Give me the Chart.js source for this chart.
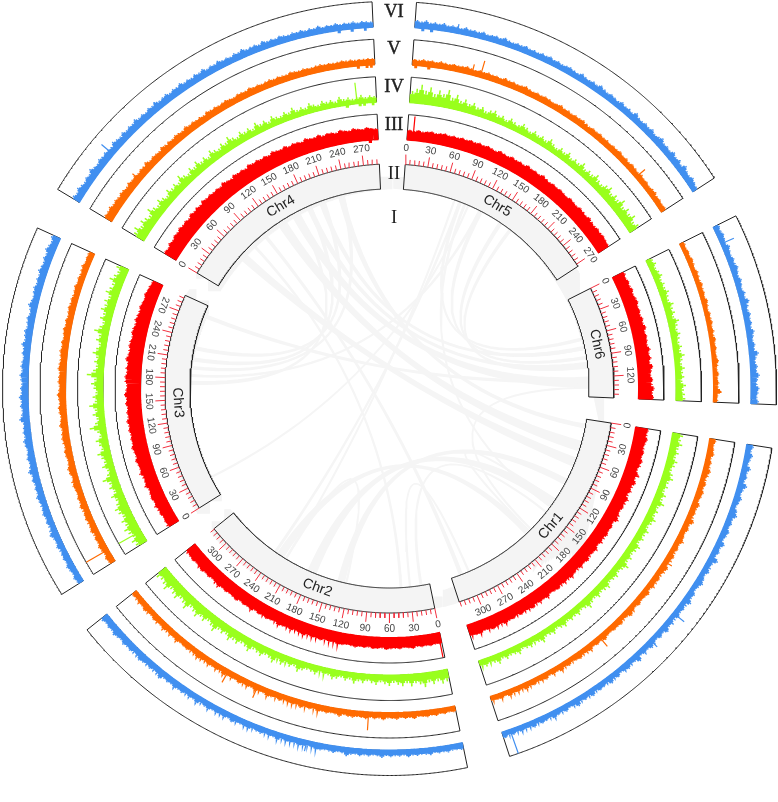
<!DOCTYPE html>
<html>
<head>
<meta charset="utf-8">
<style>
  html, body { margin: 0; padding: 0; background: #fff; }
  canvas { display: block; }
</style>
<script src="https://cdn.jsdelivr.net/npm/chart.js@4/dist/chart.umd.min.js"></script>
</head>
<body>
<canvas id="circos" width="778" height="802"></canvas>
<script>
// chromosomes in drawing order, clockwise from the top. lengths in Mb
const chrNames = ["Chr5", "Chr6", "Chr1", "Chr2", "Chr3", "Chr4"];
const chrLengths = [273.5, 149, 325, 325, 292, 291];
const flippedChrs = ["Chr1", "Chr2", "Chr3"];
const romanLabels = ["VI", "V", "IV", "III", "II", "I"];

// track values, percent of the ring height
const chr1Red = [52,48,55,50,47,53,49,56,51,47,54,50,58,49,52,46,55,50,53,48,51,57,47,52,49,54,48,51,46,53,50,47,55,49,52,46,50,54,48,51,47,53,49,45,52,48,50,46,54,49,47,51,45,50,48,53,46,49,52,47,44,50,48,46];
const chr1Green = [42,36,45,33,38,30,41,35,28,37,44,31,34,27,39,32,46,29,35,30,42,33,27,38,31,36,26,41,34,29,37,30,47,33,28,36,31,26,40,34,29,37,27,32,44,30,25,35,28,33,26,38,31,24,36,29,27,42,30,25,34,28,23,37,29,26,33,24,39,28,25,31,27];
const chr1Orange = [26,21,24,28,20,25,22,30,23,19,26,21,27,24,20,29,23,25,21,33,22,26,20,24,28,21,25,19,27,23,21,30,24,20,26,22,25,19,28,23,21,26,20,24,31,22,19,27,23,25,20,22,29,21,24,19,26,22,20,27,23,19,25,21,28,20,23,18,26,22,19,24,21,27,19,22,20,25,18,23,21,19];
const chr1Blue = [28,22,31,25,20,33,24,27,21,36,26,22,30,24,19,28,34,23,26,21,29,25,20,32,23,27,21,38,24,22,28,20,26,31,23,19,27,24,34,21,26,22,29,20,25,23,32,21,27,19,24,30,22,26,20,35,23,21,28,25,19,27,22,31,20,24,26,19,29,22,25,21,33,23,19,27,21,24,30,20,23,26,19,28,22,21,25,19,24,20,26];

const chr2Red = [44,42,46,43,45,41,47,44,42,46,43,45,48,42,44,46,41,45,43,47,44,42,46,48,43,45,42,47,44,46,43,49,45,42,47,44,46,50,43,45,48,44,47,42,49,45,47,43,50,46,44,48,45,51,47,44,49,46,52,48,45,50,47,44];
const chr2Green = [46,52,40,48,38,55,42,36,47,33,44,38,30,42,35,28,39,33,26,36,30,41,27,34,24,32,38,26,30,23,35,28,25,33,44,27,36,30,40,28,46,33,29,42,35,30,48,36,32,44,38,50,34,41,36,55,40,33,46,38,52,42,36,58,44,39,54,47,40,60,48,43,50];
const chr2Orange = [22,19,23,20,25,21,26,23,20,28,22,25,21,27,24,22,29,23,26,21,28,24,22,27,25,21,30,24,22,26,23,28,21,25,23,29,22,26,24,21,27,23,25,30,22,24,27,21,26,23,28,22,25,24,30,21,26,23,27,22,25,29,23,21,26,24,22,28,23,25,21,27,22,24,26,21,23,28,22,24,20,23];
const chr2Blue = [26,24,22,27,23,25,21,28,24,22,26,23,29,21,25,23,27,22,30,24,21,26,23,28,22,25,33,23,21,27,24,22,26,29,23,21,25,28,22,24,26,21,30,23,25,22,27,24,21,28,26,23,25,30,22,27,24,26,23,29,25,22,32,24,27,23,28,25,31,24,27,23,35,26,24,29,25,28,33,26,24,30,27,32,25,29,34,27,30,26,31];

const chr3Red = [46,48,45,50,47,52,49,54,51,48,55,52,50,57,53,55,60,54,57,62,56,58,55,60,57,63,56,59,55,61,57,64,58,55,60,63,57,59,56,65,58,55,60,57,54,59,56,52,57,53,50,55,51,48,53,49,46,44];
const chr3Green = [44,52,38,47,56,42,50,36,46,54,40,35,48,30,42,36,58,34,28,44,32,38,50,30,36,46,28,34,62,38,30,44,34,55,32,40,28,36,46,34,64,40,30,38,32,48,36,28,42,34,56,38,30,44,36,50,40,46,34,52,42,38,55,44,36,48];
const chr3Orange = [24,28,22,26,30,24,27,21,29,25,23,28,26,22,30,24,27,23,25,29,26,22,28,31,25,23,27,29,24,26,30,28,25,32,27,24,29,31,26,28,33,27,25,30,28,26,32,29,25,28,31,26,29,24,27,30,25,28,23,26,29,24,27,22,25,28,23,26,21,24,27,22,25,23];
const chr3Blue = [24,28,22,26,30,23,27,25,21,29,24,26,34,25,22,28,24,30,26,23,27,32,25,28,24,30,26,36,28,25,31,27,24,29,33,26,30,27,25,38,29,26,32,28,35,27,30,25,29,33,26,31,28,24,30,27,35,26,29,32,25,28,31,24,27,36,29,26,30,33,27,31,28,35,30,27,33,29,38,32,28,36];

const chr4Red = [56,52,58,54,60,56,62,57,60,55,63,58,61,57,64,59,62,58,60,56,63,58,55,61,57,59,54,62,57,60,55,58,53,61,56,54,59,52,57,55,50,58,53,51,56,49,54,52,48,55,50,47,53,49,46,51,47,44];
const chr4Green = [48,58,40,52,44,36,56,42,34,48,38,30,46,36,42,32,52,38,30,44,34,48,32,40,28,46,36,30,42,34,50,36,28,42,32,38,26,44,30,36,24,40,30,26,36,28,42,26,32,24,38,28,22,34,26,30,20,36,24,28,20,26,32,22,28,24];
const chr4Orange = [36,34,38,32,35,30,34,31,28,33,29,32,27,31,28,34,26,30,28,25,32,27,29,26,31,28,25,33,27,30,26,28,24,31,27,29,25,28,30,26,24,29,27,25,31,26,28,24,27,29,25,28,26,24,30,27,25,28,26,24,27,29,25,27,24,26,28,25,27,24,26,25,27,25];
const chr4Blue = [34,28,36,30,26,32,28,38,30,27,34,29,33,30,26,36,31,28,34,27,32,29,36,28,31,26,33,29,35,27,30,33,26,31,28,35,27,30,26,32,28,34,25,30,27,33,26,29,24,31,27,34,25,28,30,24,33,26,29,25,31,27,24,29,26,30,24,28,25,31,23,27,25,29,23,26,24,28,22,26,24,22];

const chr5Red = [40,37,42,38,41,44,40,43,46,42,45,43,47,44,48,45,49,46,50,47,44,51,48,46,52,48,50,47,53,49,51,48,54,50,47,52,49,53,50,48,54,51,49,55,52,50,56,52,49,54,51,55,52,50];
const chr5Green = [46,56,74,52,68,44,62,50,70,42,58,38,48,34,44,30,38,26,36,42,28,34,24,38,30,26,40,32,24,36,28,34,26,42,30,24,36,28,40,26,34,30,44,28,36,32,46,34,30,42,50,34,44,38,56,36,48,40,52,34,44];
const chr5Orange = [24,22,26,23,25,22,27,24,22,26,23,25,28,24,22,26,24,27,23,25,22,28,24,26,23,25,29,24,22,26,23,27,25,22,24,28,23,25,22,26,24,27,23,21,25,23,26,22,24,21,25,23,27,22,24,21,26,23,21,25,22,24,20,23,25,21,23,20,22];
const chr5Blue = [30,26,32,24,28,25,30,23,27,25,22,29,24,26,23,28,22,25,27,23,30,24,22,26,24,28,23,25,22,27,24,29,23,26,22,25,28,24,22,30,25,23,27,24,32,26,23,28,25,22,30,24,27,23,34,26,24,29,25,31,23,27,35,25,28,24,33,26,30,23,36,27,24,31,26,22];

const chr6Red = [50,47,52,48,54,49,52,56,50,53,49,55,51,58,50,54,52,49,56,51,55,50,60,53,50,57,52,62,55,60];
const chr6Green = [24,30,22,28,34,24,30,26,36,28,24,38,30,34,26,42,32,28,36,30,26,34,28,40,30,26,36,28,32,24,38,30,34,36];
const chr6Orange = [18,16,20,17,22,18,16,21,19,17,23,18,20,17,24,19,16,21,18,22,17,20,16,23,18,21,17,19,24,18,16,22,17,20,18,28,17,15];
const chr6Blue = [24,20,26,22,19,28,23,20,26,22,30,24,20,27,23,19,25,22,34,24,20,28,23,26,21,30,24,20,26,22,36,25,21,28,24,34,26,22,32,28,24,30];

// single tall peaks: chromosome, position in Mb, percent of ring height
const redPeaks = [["Chr5",7,95],["Chr2",2,98],["Chr1",55,62]];
const greenPeaks = [["Chr4",271,83],["Chr3",12,100]];
const orangePeaks = [["Chr5",63,67],["Chr5",55,42],["Chr5",234,48],["Chr4",46,42],["Chr3",12,100],["Chr2",79,72],["Chr2",213,55],["Chr2",183,55],["Chr1",211,52],["Chr1",120,36],["Chr6",140,30]];
const bluePeaks = [["Chr4",48,62],["Chr5",35,36],["Chr6",15,55],["Chr1",152,55],["Chr1",181,40],["Chr1",318,100],["Chr2",128,42]];

// synteny links: chr, start, end, chr, start, end (Mb)
const links = [
  ["Chr4",128,140,"Chr1",34,48],
  ["Chr4",153,164,"Chr6",120,134],
  ["Chr4",52,62,"Chr1",60,72],
  ["Chr4",178,184,"Chr6",98,103],
  ["Chr4",198,203,"Chr6",74,78],
  ["Chr4",228,235,"Chr1",8,13],
  ["Chr4",101,104,"Chr1",308,312],
  ["Chr4",79,81,"Chr2",42,44],
  ["Chr3",224,228,"Chr4",202,206],
  ["Chr3",207,211,"Chr4",180,184],
  ["Chr3",195,198,"Chr4",232,236],
  ["Chr3",172,176,"Chr4",161,164],
  ["Chr3",184,186,"Chr5",117,119],
  ["Chr3",274,278,"Chr6",123,127],
  ["Chr3",29,30,"Chr5",99,100],
  ["Chr2",239,241,"Chr5",85,87],
  ["Chr2",221,222,"Chr5",77,78],
  ["Chr5",85,88,"Chr6",61,64],
  ["Chr5",118,122,"Chr6",75,78],
  ["Chr5",152,156,"Chr6",89,92],
  ["Chr5",170,173,"Chr6",102,106],
  ["Chr5",93,95,"Chr1",141,142],
  ["Chr6",135,136,"Chr1",185,186],
  ["Chr1",129,130,"Chr1",189,190],
  ["Chr2",172,184,"Chr1",128,140],
  ["Chr2",128,137,"Chr1",94,102],
  ["Chr2",226,236,"Chr1",189,196],
  ["Chr2",12,14,"Chr1",151,152],
  ["Chr2",221,222,"Chr2",124,125],
  ["Chr2",29,30,"Chr1",297,298]
];

const trackValues = {
  Chr1: [chr1Red, chr1Green, chr1Orange, chr1Blue],
  Chr2: [chr2Red, chr2Green, chr2Orange, chr2Blue],
  Chr3: [chr3Red, chr3Green, chr3Orange, chr3Blue],
  Chr4: [chr4Red, chr4Green, chr4Orange, chr4Blue],
  Chr5: [chr5Red, chr5Green, chr5Orange, chr5Blue],
  Chr6: [chr6Red, chr6Green, chr6Orange, chr6Blue]
};
const trackPeaks = [redPeaks, greenPeaks, orangePeaks, bluePeaks];

// layout, scale units are canvas pixels around the circle centre
const trackColors = ["#ff0000", "#99ff1c", "#ff6a00", "#408ff0"];
const bodyShare = [0.94, 0.72, 0.86, 0.84];
const trackInner = [249.5, 287, 324.5, 362];
const ringHeight = 25;
const ideoInner = 199.5, ideoOuter = 224.5;
const degPerMb = 0.194, gapDeg = 6.45, firstDeg = 4;
const lineColor = "#222222", tickColor = "#f2303f", linkColor = "#f5f5f5";
const gap = { x: NaN, y: NaN };

const chrStart = {}, chrLen = {};
let cursor = firstDeg;
chrNames.forEach(function (name, i) {
  chrStart[name] = cursor;
  chrLen[name] = chrLengths[i];
  cursor += chrLengths[i] * degPerMb + gapDeg;
});

function polar(deg, r) {
  const a = deg * Math.PI / 180;
  return { x: r * Math.sin(a), y: r * Math.cos(a) };
}
function mbDeg(chr, mb) {
  return chrStart[chr] + mb * degPerMb;
}
function arc(chr, r, reverse) {
  const pts = [];
  for (let mb = 0; mb < chrLen[chr]; mb += 1) pts.push(polar(mbDeg(chr, mb), r));
  pts.push(polar(mbDeg(chr, chrLen[chr]), r));
  return reverse ? pts.reverse() : pts;
}
function boxPath(chr, inner, outer) {
  const pts = arc(chr, outer).concat(arc(chr, inner, true));
  pts.push(pts[0]);
  return pts;
}

const datasets = [];
function addLine(points, color, width) {
  datasets.push({
    data: points,
    showLine: true,
    borderColor: color,
    borderWidth: width,
    pointRadius: 0,
    fill: false,
    tension: 0,
    spanGaps: false,
    borderCapStyle: "butt",
    borderJoinStyle: "miter",
    order: -datasets.length
  });
}

// links first, they sit under everything
links.forEach(function (l) {
  const a0 = mbDeg(l[0], l[1]), a1 = mbDeg(l[0], l[2]);
  const b0 = mbDeg(l[3], l[4]), b1 = mbDeg(l[3], l[5]);
  const spread = Math.max(Math.abs(a1 - a0), Math.abs(b1 - b0)) * Math.PI / 180 * ideoInner;
  const strands = Math.max(1, Math.ceil(spread));
  const pts = [];
  for (let s = 0; s <= strands; s++) {
    const t = s / strands;
    const A = polar(a0 + (a1 - a0) * t, ideoInner);
    const B = polar(b1 + (b0 - b1) * t, ideoInner);
    for (let k = 0; k <= 30; k++) {
      const u = k / 30;
      pts.push({ x: (1 - u) * (1 - u) * A.x + u * u * B.x, y: (1 - u) * (1 - u) * A.y + u * u * B.y });
    }
    pts.push(gap);
  }
  addLine(pts, linkColor, 1.6);
});

chrNames.forEach(function (chr) {
  // ideogram: grey band then its outline
  addLine(arc(chr, (ideoInner + ideoOuter) / 2), "#f4f4f4", ideoOuter - ideoInner);
  addLine(boxPath(chr, ideoInner, ideoOuter), lineColor, 1);

  // ticks every 6 Mb, longer every 30
  const minor = [], major = [];
  for (let mb = 0; mb <= chrLen[chr]; mb += 6) {
    const isMajor = mb % 30 === 0;
    const d = mbDeg(chr, mb);
    (isMajor ? major : minor).push(polar(d, ideoOuter), polar(d, ideoOuter + (isMajor ? 10 : 5)), gap);
  }
  addLine(minor, tickColor, 1);
  addLine(major, tickColor, 1);

  trackInner.forEach(function (inner, t) {
    addLine(boxPath(chr, inner, inner + ringHeight), lineColor, 1);
    const values = trackValues[chr][t];
    const binMb = chrLen[chr] / values.length;
    const barWidth = binMb * degPerMb * Math.PI / 180 * (inner + 6) + 0.4;
    const bodies = [], tips = [];
    values.forEach(function (v, i) {
      const d = mbDeg(chr, (i + 0.5) * binMb);
      const top = inner + v / 100 * ringHeight;
      const mid = inner + v * bodyShare[t] / 100 * ringHeight;
      // start just below the ring so the band hides its inner arc
      bodies.push(polar(d, inner - 1), polar(d, mid), gap);
      tips.push(polar(d, mid), polar(d, top), gap);
    });
    addLine(bodies, trackColors[t], barWidth);
    addLine(tips, trackColors[t], 1.5);
    const peaks = [];
    trackPeaks[t].forEach(function (p) {
      if (p[0] !== chr) return;
      const d = mbDeg(chr, p[1]);
      peaks.push(polar(d, inner), polar(d, inner + p[2] / 100 * ringHeight), gap);
    });
    if (peaks.length) addLine(peaks, trackColors[t], 1.2);
  });
});

// text goes on top of the marks, placed through the same scales
const textPlugin = {
  id: "circosText",
  afterDatasetsDraw: function (chart) {
    const c = chart.ctx, sx = chart.scales.x, sy = chart.scales.y;
    function put(text, deg, r, flip) {
      const p = polar(deg, r);
      c.save();
      c.translate(sx.getPixelForValue(p.x), sy.getPixelForValue(p.y));
      c.rotate((flip ? deg - 180 : deg) * Math.PI / 180);
      c.fillText(text, 0, 0);
      c.restore();
    }
    c.save();
    c.textAlign = "center";
    c.textBaseline = "middle";
    chrNames.forEach(function (chr) {
      const flip = flippedChrs.indexOf(chr) >= 0;
      c.fillStyle = "#444444";
      c.font = '10px "Liberation Sans", Arial, sans-serif';
      for (let mb = 0; mb <= chrLen[chr]; mb += 30) {
        put(String(mb), mbDeg(chr, mb), 241, flip);
      }
      c.fillStyle = "#222222";
      c.font = '14px "Liberation Sans", Arial, sans-serif';
      put(chr, mbDeg(chr, chrLen[chr] / 2), (ideoInner + ideoOuter) / 2, flip);
    });
    c.fillStyle = "#222222";
    c.strokeStyle = "#222222";
    c.lineWidth = 0.4;
    c.font = '18.5px "Liberation Serif", "Times New Roman", serif';
    const romanY = [376, 339, 301, 263.5, 214.5, 170.5];
    romanLabels.forEach(function (label, i) {
      c.fillText(label, sx.getPixelForValue(4.5), sy.getPixelForValue(romanY[i]));
      if (i < 4) c.strokeText(label, sx.getPixelForValue(4.5), sy.getPixelForValue(romanY[i]));
    });
    c.restore();
  }
};

new Chart(document.getElementById("circos").getContext("2d"), {
  type: "scatter",
  data: { datasets: datasets },
  plugins: [textPlugin],
  options: {
    responsive: false,
    animation: false,
    layout: { padding: 0 },
    plugins: { legend: { display: false }, tooltip: { enabled: false } },
    scales: {
      x: { type: "linear", display: false, min: -389.5, max: 388.5 },
      y: { type: "linear", display: false, min: -413.5, max: 388.5 }
    }
  }
});
</script>
</body>
</html>
